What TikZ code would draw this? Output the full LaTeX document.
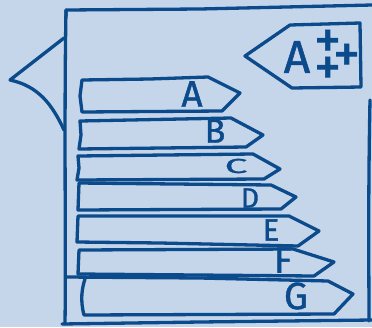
\documentclass[tikz,border=0pt]{standalone}
\usepackage{fontspec}
\newfontfamily\hand[FakeBold=1.2]{Fira Sans}
\definecolor{bgc}{HTML}{C5D6EA}
\definecolor{inkc}{HTML}{0B4A8B}
\begin{document}
\begin{tikzpicture}[x=1pt,y=-1pt,
  ink/.style={draw=inkc, line width=3.3pt, line join=round, line cap=round},
  lbl/.style={text=inkc, inner sep=0pt, anchor=center}]
\fill[bgc] (0,0) rectangle (372,327);
\useasboundingbox (0,0) rectangle (372,327);
% frame
\draw[ink] (66,16) -- (66,10) -- (200,9) -- (372,5);
\draw[ink] (66,10) .. controls (64,120) and (66,250) .. (65,324);
\draw[ink] (62,324) -- (200,322) -- (372,320);
\draw[ink] (370,100) .. controls (368,200) and (369,280) .. (369,321);
% left pointer
\draw[ink] (64,38) -- (10,80) .. controls (38,86) and (52,104) .. (64,130);
% bars
\draw[ink] (82,80) -- (150,79) -- (208,77) -- (240,93) -- (222,111) -- (82,112) -- (80,96) -- cycle;
\draw[ink] (80,121) -- (231,118) -- (263,135) -- (246,147) -- (79,149) -- (81,135) -- cycle;
\draw[ink] (78,156) -- (253,154) -- (280,169) -- (264,179) -- (77,180) -- (79,168) -- cycle;
\draw[ink] (79,183) -- (271,185) -- (296,197) -- (281,209) -- (78,210) -- cycle;
\draw[ink] (78,216) -- (289,216) -- (319,231) -- (298,246) -- (160,243) -- (77,242) -- cycle;
\draw[ink] (79,250) -- (293,249) -- (334,262) -- (314,276) -- (78,274) -- cycle;
\draw[ink] (66,277) -- (200,278) -- (328,281) -- (353,294) -- (334,314) -- (84,315) .. controls (80,300) and (82,288) .. (85,279);
% letters
\node[lbl, font=\hand\fontsize{37}{37}\selectfont] (la) at (192,94) {A};
\node[lbl, font=\hand\fontsize{34}{34}\selectfont] (lb) at (215,131) {B};
\node[lbl, font=\hand\fontsize{27}{27}\selectfont] (lc) at (236,166) {\scalebox{1.5}[0.75]{C}};
\node[lbl, font=\hand\fontsize{28}{28}\selectfont] (ld) at (250,198) {D};
\node[lbl, font=\hand\fontsize{31}{31}\selectfont] (le) at (271,230) {E};
\node[lbl, font=\hand\fontsize{37}{37}\selectfont] (lf) at (283,260) {F};
\node[lbl, font=\hand\fontsize{38}{38}\selectfont] (lg) at (296,296) {G};
% A++ tag
\draw[ink] (290,25) -- (360,23) -- (361,87) -- (292,88) -- (245,56) -- cycle;
\node[lbl, font=\hand\fontsize{46}{46}\selectfont] (lap) at (297,57) {A};
\node[lbl, anchor=base west, font=\hand\fontsize{54}{54}\selectfont] (plus) at (327,85)
  {\makebox[0pt][l]{\makebox[0pt]{\raisebox{27pt}{+}}\makebox[0pt]{+}\hspace{19pt}\makebox[0pt]{\raisebox{13pt}{+}}}};
\end{tikzpicture}
\end{document}
